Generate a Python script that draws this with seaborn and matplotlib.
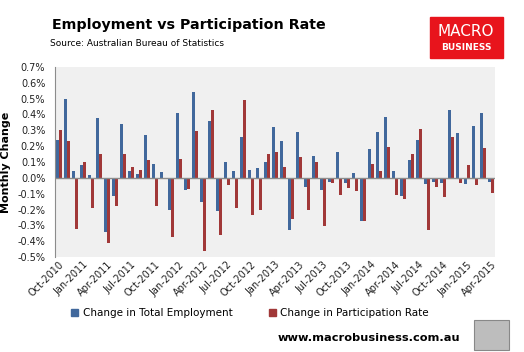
import pandas as pd
import matplotlib
matplotlib.use("Agg")
import matplotlib.pyplot as plt
import seaborn as sns
from matplotlib.patches import Rectangle
from matplotlib.ticker import FuncFormatter

# monthly data, Oct-2010 .. Apr-2015 (values in %)
months = pd.date_range("2010-10-01", "2015-04-01", freq="MS").strftime("%b-%Y").tolist()

employment = [0.24, 0.495, 0.046, 0.08, 0.015, 0.375, -0.34, -0.115, 0.34, 0.04,
              0.027, 0.27, 0.085, 0.035, -0.20, 0.41, -0.075, 0.54, -0.15, 0.36,
              -0.21, 0.10, 0.04, 0.255, 0.05, 0.06, 0.10, 0.32, 0.23, -0.33,
              0.29, -0.06, 0.14, -0.08, -0.025, 0.165, -0.03, 0.03, -0.275, 0.18,
              0.29, 0.385, 0.04, -0.115, 0.11, 0.24, -0.04, -0.025, -0.03, 0.43,
              0.285, -0.04, 0.33, 0.41, -0.025]

participation = [0.30, 0.23, -0.32, 0.10, -0.19, 0.15, -0.41, -0.18, 0.15, 0.07,
                 0.05, 0.115, -0.18, -0.005, -0.375, 0.12, -0.07, 0.295, -0.46, 0.43,
                 -0.36, -0.045, -0.19, 0.49, -0.235, -0.205, 0.15, 0.16, 0.07, -0.26,
                 0.13, -0.20, 0.10, -0.305, -0.03, -0.11, -0.065, -0.085, -0.275, 0.09,
                 0.045, 0.195, -0.11, -0.135, 0.15, 0.31, -0.33, -0.06, -0.12, 0.26,
                 -0.035, 0.08, -0.045, 0.19, -0.095]

series_names = ["Change in Total Employment", "Change in Participation Rate"]
colours = ["#41689c", "#a13838"]

df = pd.DataFrame({"Month": months * 2,
                   "Value": employment + participation,
                   "Series": [series_names[0]] * len(months) + [series_names[1]] * len(months)})

fig = plt.figure(figsize=(5.24, 3.52), dpi=100)
ax = fig.add_axes([55 / 524, 95 / 352, 440 / 524, 190 / 352])
ax.set_facecolor("#f0f0f0")

sns.barplot(data=df, x="Month", y="Value", hue="Series", palette=colours,
            width=0.78, dodge=True, ax=ax, legend=False, saturation=1)

ax.set_ylim(-0.5, 0.7)
ax.set_xlim(-0.5, len(months) - 0.5)
ax.set_yticks([i / 10 for i in range(-5, 8)])
ax.yaxis.set_major_formatter(FuncFormatter(lambda v, p: f"{v:.1f}%"))
ax.axhline(0, color="#8c8c8c", lw=1, zorder=3)

ticks = list(range(0, len(months), 3))
ax.set_xticks(ticks)
ax.set_xticklabels([months[i] for i in ticks], rotation=45, ha="right",
                   rotation_mode="anchor", fontsize=7, color="#222222")
ax.tick_params(axis="y", labelsize=7, colors="#222222", length=0, pad=7)
ax.tick_params(axis="x", length=0, pad=2)

for s in ["top", "right", "bottom"]:
    ax.spines[s].set_visible(False)
ax.spines["left"].set_color("#8c8c8c")

ax.set_xlabel("")
ax.set_ylabel("Monthly Change", fontsize=8, fontweight="bold")
ax.yaxis.set_label_coords(-(55 - 11) / 440, 0.5)

# titles
fig.text(52 / 524, 1 - 25 / 352, "Employment vs Participation Rate", fontsize=10.3,
         fontweight="bold", va="center", ha="left")
fig.text(50 / 524, 1 - 44 / 352, "Source: Australian Bureau of Statistics",
         fontsize=6.5, va="center", ha="left")

# logo box
fig.patches.append(Rectangle((430 / 524, 1 - 58 / 352), 73 / 524, 41 / 352,
                             transform=fig.transFigure, color="#e8141c"))
fig.text(466 / 524, 1 - 31 / 352, "MACRO", color="white", fontsize=11,
         ha="center", va="center")
fig.text(466 / 524, 1 - 48 / 352, "BUSINESS", color="white", fontsize=6.5,
         ha="center", va="center", fontweight="bold")

# legend
handles = [Rectangle((0, 0), 1, 1, color=c) for c in colours]
fig.legend(handles, series_names, loc="center", bbox_to_anchor=(250 / 524, 1 - 313 / 352),
           ncol=2, frameon=False, fontsize=7.5, handlelength=0.7, handleheight=0.7,
           columnspacing=3.5, handletextpad=0.4)

fig.text(460 / 524, 1 - 338 / 352, "www.macrobusiness.com.au", fontsize=8.2,
         fontweight="bold", ha="right", va="center")
fig.patches.append(Rectangle((474 / 524, 1 - 350 / 352), 35 / 524, 30 / 352,
                             transform=fig.transFigure, facecolor="#bdbdbd",
                             edgecolor="#888888", lw=0.8))

fig.savefig("out.png", dpi=100)
